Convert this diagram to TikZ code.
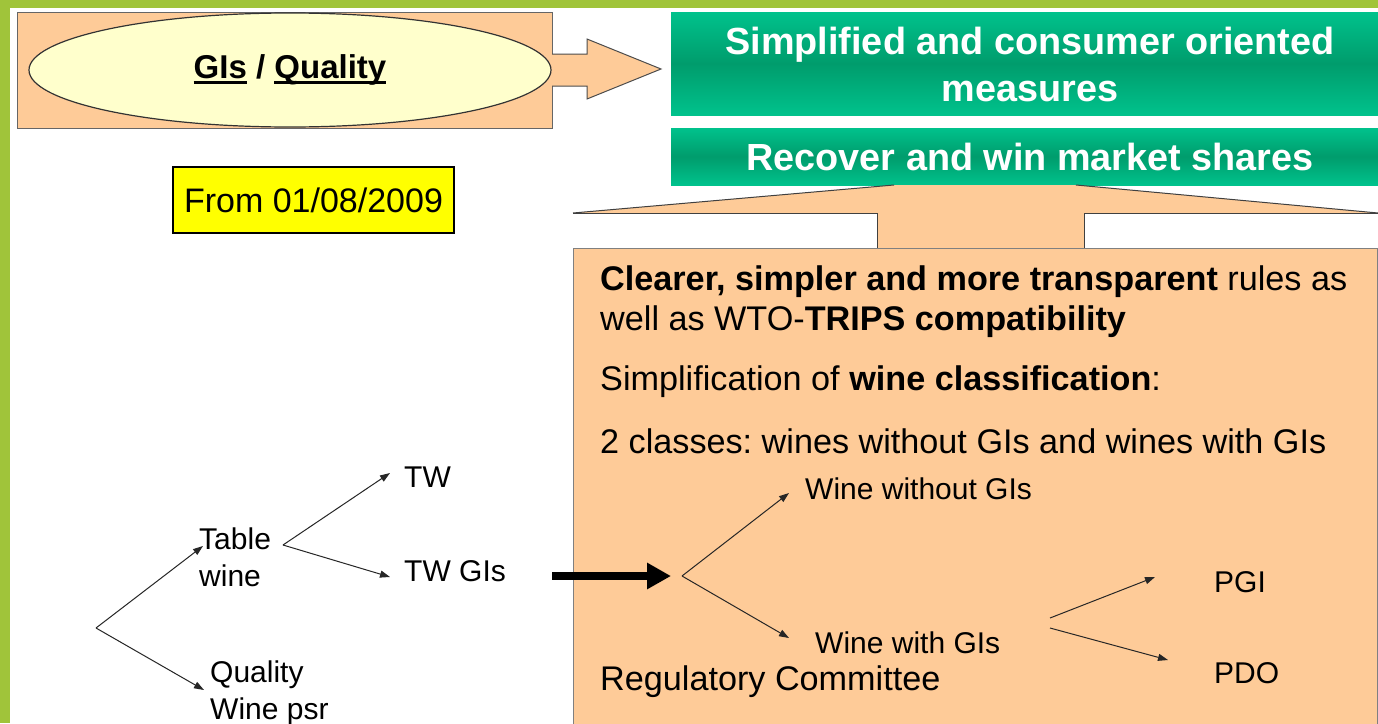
\documentclass[tikz,border=0pt]{standalone}
\usepackage{fontspec}
\setmainfont{Liberation Sans}
\usetikzlibrary{arrows.meta,shapes.geometric}
\definecolor{frame}{HTML}{A0C43A}
\definecolor{peach}{HTML}{FECB98}
\definecolor{cream}{HTML}{FFFFCC}
\definecolor{gLight}{HTML}{00C28C}
\definecolor{gDark}{HTML}{009C6C}
\definecolor{yel}{HTML}{FFFF00}
\frenchspacing
\newcommand\myul[1]{\setbox0\hbox{#1}\rlap{\rule[-5pt]{\wd0}{2.8pt}}\box0\relax}
\tikzset{
  txt/.style={inner sep=0pt, anchor=west, font=\fontsize{30}{37}\selectfont},
  ptxt/.style={inner sep=0pt, anchor=west, font=\fontsize{34.2}{40}\selectfont},
  gtxt/.style={inner sep=0pt, text=white, align=center, font=\bfseries\fontsize{37.8}{47}\selectfont},
  thinarrow/.style={draw=black!85, line width=1pt, -{Triangle[length=10pt,width=7pt]}},
  gbox/.style={top color=gLight, bottom color=gLight, middle color=gDark},
  edge/.style={draw=black!75, line width=1pt}
}
\begin{document}
\begin{tikzpicture}[x=1pt,y=-1pt]
\useasboundingbox (0,0) rectangle (1378,723);
\fill[white] (0,0) rectangle (1378,723);
\fill[frame] (0,0) rectangle (1378,8);
\fill[frame] (0,0) rectangle (10,723);

% top-left box with ellipse
\draw[fill=peach, draw=black!60, line width=1pt] (17,12) rectangle (552,128);
\node[ellipse, draw=black!80, line width=1.2pt, fill=cream, minimum width=522pt, minimum height=114pt, inner sep=0pt] (gi) at (290,70) {};
\node[inner sep=0pt, font=\bfseries\fontsize{33}{38}\selectfont] (gitext) at (290,70) {\myul{GIs} / \myul{Quality}};

% block arrow
\draw[fill=peach, draw=black!70, line width=1pt] (552,54) -- (587,54) -- (587,39) -- (661,69) -- (587,99) -- (587,86) -- (552,86);

% green boxes
\shade[gbox] (671,12) rectangle (1378,115);
\node[gtxt] (g1) at (1030,64) {Simplified and consumer oriented\\measures};
\shade[gbox] (671,128) rectangle (1378,185);
\node[gtxt] (g2) at (1030,157) {Recover and win market shares};

% yellow date box
\node[draw=black, line width=1.2pt, fill=yel, minimum width=281pt, minimum height=66pt, inner sep=0pt, font=\fontsize{34}{40}\selectfont] (date) at (313.5,200) {From 01/08/2009};

% callout
\fill[peach] (573,213) -- (894,185) -- (1076,185) -- (1378,213) -- cycle;
\draw[edge] (573,213) -- (894,185);
\draw[edge] (1076,185) -- (1378,213);
\fill[peach] (877,212) rectangle (1084,249);
\fill[white] (573,213) rectangle (877,248);
\fill[white] (1084,213) rectangle (1378,248);
\draw[edge] (573,213) -- (877,213) -- (877,248);
\draw[edge] (1378,213) -- (1084,213) -- (1084,248);
\draw[fill=peach, draw=black!50, line width=1pt] (573,248) rectangle (1377,726);

% callout text
\node[ptxt] (l1) at (600,282) {\textbf{Clearer, simpler and more transparent} rules as};
\node[ptxt] (l2) at (600,322) {well as WTO-\textbf{TRIPS compatibility}};
\node[ptxt] (l3) at (600,382) {Simplification of \textbf{wine classification}:};
\node[ptxt] (l4) at (600,441) {2 classes: wines without GIs and wines with GIs};

% right tree
\node[txt] (wwo) at (805,489) {Wine without GIs};
\node[txt] (ww) at (815,643) {Wine with GIs};
\node[ptxt] (reg) at (600,682) {Regulatory Committee};
\node[txt] (pgi) at (1214,582) {PGI};
\node[txt] (pdo) at (1214,673) {PDO};
\coordinate (bigs) at (552,576);
\coordinate (b1) at (682,576);
\coordinate (bigTip) at (671,576);
\coordinate (wwoTip) at (789,493);
\coordinate (wwTip) at (789,638);
\coordinate (b2a) at (1050,618);
\coordinate (b2b) at (1050,628);
\coordinate (pgiTip) at (1155,577);
\coordinate (pdoTip) at (1168,660);
\draw[line width=8pt, -{Triangle[length=24pt,width=25pt]}] (bigs) -- (bigTip);
\draw[thinarrow] (b1) -- (wwoTip);
\draw[thinarrow] (b1) -- (wwTip);
\draw[thinarrow] (b2a) -- (pgiTip);
\draw[thinarrow] (b2b) -- (pdoTip);

% left tree
\node[txt, align=left] (table) at (199,557) {Table\\wine};
\node[txt, align=left] (quality) at (210,693) {Quality\\Wine psr};
\node[txt] (tw) at (404,477) {TW};
\node[txt] (twg) at (404,571) {TW GIs};
\coordinate (root) at (96,628);
\coordinate (tableTip) at (203,546);
\coordinate (qualTip) at (204,690);
\coordinate (twRoot) at (283,545);
\coordinate (twTip) at (390,473);
\coordinate (twgTip) at (390,577);
\draw[thinarrow] (root) -- (tableTip);
\draw[thinarrow] (root) -- (qualTip);
\draw[thinarrow] (twRoot) -- (twTip);
\draw[thinarrow] (twRoot) -- (twgTip);
\end{tikzpicture}
\end{document}
